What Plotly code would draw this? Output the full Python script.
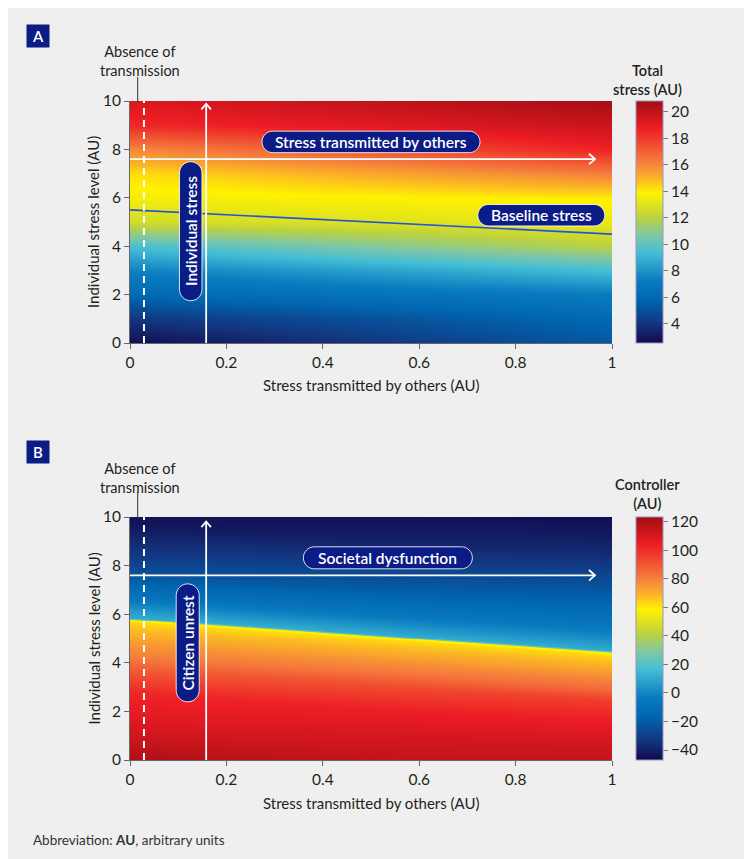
import numpy as np
import plotly.graph_objects as go

# ---------------- data ----------------
# Panel A: total stress (AU) read along x = 0 and x = 1, for y = 0..10
a_x = [0.0, 1.0]
a_y = [0, 1, 2, 3, 4, 5, 6, 7, 8, 9, 10]
a_total_x0 = [2.7, 4.0, 6.0, 7.5, 9.5, 12.6, 13.6, 14.2, 16.0, 18.5, 19.3]
a_total_x1 = [5.3, 6.0, 7.2, 9.4, 12.0, 13.3, 14.0, 16.2, 18.7, 19.8, 20.7]
a_baseline_x = [0, 1]
a_baseline_y = [5.5, 4.5]

# Panel B: controller (AU); boundary (baseline) at x = 0 and x = 1
b_boundary_x = [0, 1]
b_boundary_y = [5.77, 4.42]
# values versus height above the boundary, read at x = 0 and x = 1
b_above_d = [0.0, 0.03, 0.08, 0.3, 1.0, 2.0, 3.0, 4.0, 5.0, 5.6]
b_above_x0 = [57, 25, 11, 7, -9, -25, -35, -44, -47, -47]
b_above_x1 = [57, 25, 11, 7, -5, -16, -26, -36, -43, -46]
# values versus depth below the boundary, read at x = 0 and x = 1
b_below_d = [0.0, 0.1, 0.3, 0.7, 1.0, 1.5, 2.0, 3.0, 4.0, 5.0, 5.8]
b_below_x0 = [57, 62, 66, 71, 75, 80, 88, 102, 107, 114, 121]
b_below_x1 = [57, 62, 66, 72, 77, 85, 97, 106, 113, 116, 116]

x_ticks = [0, 0.2, 0.4, 0.6, 0.8, 1]
x_ticktext = ["0", "0.2", "0.4", "0.6", "0.8", "1"]
y_ticks = [0, 2, 4, 6, 8, 10]
a_cbar_ticks = [4, 6, 8, 10, 12, 14, 16, 18, 20]
b_cbar_ticks = [-40, -20, 0, 20, 40, 60, 80, 100, 120]
a_range = [2.54, 20.83]
b_range = [-47, 123.3]

# ---------------- styles ----------------
FONT = "Lato"
BG = "#efefef"
NAVY = "#0b1c86"
TXT = "#231f20"

cscale = [
    [0.00, "#120a4e"], [0.08, "#13357f"], [0.18, "#0066b0"], [0.26, "#0a7cc0"],
    [0.37, "#42bdd6"], [0.44, "#7cc7a8"], [0.52, "#bdd23e"], [0.62, "#fff200"],
    [0.68, "#fbb426"], [0.75, "#f47c3c"], [0.89, "#ed1c24"], [1.00, "#a20d14"],
]

# panel B grid
bx = np.linspace(0, 1, 121)
by = np.linspace(0, 10, 501)
bz = np.zeros((len(by), len(bx)))
for j, xv in enumerate(bx):
    yb = np.interp(xv, b_boundary_x, b_boundary_y)
    for i, yv in enumerate(by):
        if yv >= yb:
            d = yv - yb
            v0 = np.interp(d, b_above_d, b_above_x0)
            v1 = np.interp(d, b_above_d, b_above_x1)
        else:
            d = yb - yv
            v0 = np.interp(d, b_below_d, b_below_x0)
            v1 = np.interp(d, b_below_d, b_below_x1)
        bz[i, j] = (1 - xv) * v0 + xv * v1

W, H = 752, 859
xdom = [122 / W, 604 / W]
ydomA = [(H - 335) / H, (H - 93) / H]
ydomB = [(H - 752) / H, (H - 509) / H]

fig = go.Figure()

a_z = [[a_total_x0[i], a_total_x1[i]] for i in range(len(a_y))]
fig.add_trace(go.Heatmap(
    x=a_x, y=a_y, z=a_z, zsmooth="best", colorscale=cscale,
    zmin=a_range[0], zmax=a_range[1], xaxis="x", yaxis="y", hoverinfo="skip",
    colorbar=dict(x=628 / W, xanchor="left", y=sum(ydomA) / 2, yanchor="middle",
                  len=242, lenmode="pixels", thickness=27, xpad=0, ypad=0,
                  outlinewidth=1, outlinecolor="#9c97b5", tickvals=a_cbar_ticks,
                  ticks="outside", ticklen=5, tickcolor="#777",
                  tickfont=dict(family=FONT, size=15.5, color=TXT)),
))
fig.add_trace(go.Scatter(x=a_baseline_x, y=a_baseline_y, mode="lines",
                         line=dict(color="#2354dc", width=1.6), xaxis="x", yaxis="y",
                         hoverinfo="skip", showlegend=False))

fig.add_trace(go.Heatmap(
    x=bx, y=by, z=bz, zsmooth="best", colorscale=cscale,
    zmin=b_range[0], zmax=b_range[1], xaxis="x2", yaxis="y2", hoverinfo="skip",
    colorbar=dict(x=628 / W, xanchor="left", y=sum(ydomB) / 2, yanchor="middle",
                  len=243, lenmode="pixels", thickness=27, xpad=0, ypad=0,
                  outlinewidth=1, outlinecolor="#9c97b5", tickvals=b_cbar_ticks,
                  ticks="outside", ticklen=5, tickcolor="#777",
                  tickfont=dict(family=FONT, size=15.5, color=TXT)),
))

axis_common = dict(showline=True, linecolor="#666", linewidth=1, ticks="outside",
                   ticklen=5, tickcolor="#666", showgrid=False, zeroline=False,
                   automargin=False,
                   tickfont=dict(family=FONT, size=15.5, color=TXT))
fig.update_layout(
    width=W, height=H, autosize=False,
    margin=dict(l=0, r=0, t=0, b=0, pad=0, autoexpand=False),
    paper_bgcolor=BG, plot_bgcolor=BG, showlegend=False,
    font=dict(family=FONT, color=TXT),
    xaxis=dict(domain=xdom, anchor="y", range=[0, 1], tickvals=x_ticks,
               ticktext=x_ticktext, **axis_common),
    yaxis=dict(domain=ydomA, anchor="x", range=[0, 10], tickvals=y_ticks, **axis_common),
    xaxis2=dict(domain=xdom, anchor="y2", range=[0, 1], tickvals=x_ticks,
                ticktext=x_ticktext, **axis_common),
    yaxis2=dict(domain=ydomB, anchor="x2", range=[0, 10], tickvals=y_ticks, **axis_common),
)

shapes = []
annots = []


def pill(xr, yr, xc, yc, w, h, text, vertical=False):
    hw, hh = w / 2, h / 2
    r = min(w, h) / 2
    k = 0.5523 * r
    p = (f"M {-hw + r},{-hh} L {hw - r},{-hh} "
         f"C {hw - r + k},{-hh} {hw},{-hh + r - k} {hw},{-hh + r} "
         f"L {hw},{hh - r} "
         f"C {hw},{hh - r + k} {hw - r + k},{hh} {hw - r},{hh} "
         f"L {-hw + r},{hh} "
         f"C {-hw + r - k},{hh} {-hw},{hh - r + k} {-hw},{hh - r} "
         f"L {-hw},{-hh + r} "
         f"C {-hw},{-hh + r - k} {-hw + r - k},{-hh} {-hw + r},{-hh} Z")
    shapes.append(dict(type="path", xref=xr, yref=yr, xsizemode="pixel", ysizemode="pixel",
                       xanchor=xc, yanchor=yc, path=p, fillcolor=NAVY,
                       line=dict(color="rgba(255,255,255,0.85)", width=1), layer="above"))
    annots.append(dict(xref=xr, yref=yr, x=xc, y=yc, text=text, showarrow=False,
                       xanchor="center", yanchor="middle",
                       textangle=-90 if vertical else 0,
                       font=dict(family=FONT, size=15.5, color="white", weight=600)))


def arrows(xr, yr, vx, vtip, hy, htip):
    shapes.append(dict(type="line", xref=xr, yref=yr, x0=vx, x1=vx, y0=0, y1=vtip,
                       line=dict(color="white", width=1.8), layer="above"))
    shapes.append(dict(type="path", xref=xr, yref=yr, xsizemode="pixel", ysizemode="pixel",
                       xanchor=vx, yanchor=vtip, path="M -4.8,-5.5 L 0,0 L 4.8,-5.5",
                       line=dict(color="white", width=1.8), layer="above"))
    shapes.append(dict(type="line", xref=xr, yref=yr, x0=0, x1=htip, y0=hy, y1=hy,
                       line=dict(color="white", width=1.8), layer="above"))
    shapes.append(dict(type="path", xref=xr, yref=yr, xsizemode="pixel", ysizemode="pixel",
                       xanchor=htip, yanchor=hy, path="M -6,5.3 L 0,0 L -6,-5.3",
                       line=dict(color="white", width=1.8), layer="above"))
    shapes.append(dict(type="line", xref=xr, yref=yr, x0=0.029, x1=0.029, y0=0, y1=10,
                       line=dict(color="white", width=2, dash="7px,5px"), layer="above"))


def py(fy):  # figure pixel y -> paper
    return (H - fy) / H


def px(fx):
    return fx / W


def note(x, y, text, size, angle=0, weight="normal", color=TXT, xanchor="center", **kw):
    annots.append(dict(xref="paper", yref="paper", x=x, y=y, text=text, showarrow=False,
                       xanchor=xanchor, yanchor="middle", textangle=angle,
                       font=dict(family=FONT, size=size, color=color, weight=weight), **kw))


panels = [
    ("x", "y", ydomA, "A", 28, 53.5, 69, 94, 377, 9.88, 72.5, "Total<br>stress (AU)"),
    ("x2", "y2", ydomB, "B", 444, 470, 484, 510, 795, 9.81, 486, "Controller<br>(AU)"),
]
for (xr, yr, ydom, letter, letter_y, absence_y, ptr0, ptr1, xt_y, vtip, cb_y, cb_title) in panels:
    arrows(xr, yr, 0.158, vtip, 7.6, 0.9647)
    note(px(30), py(letter_y), letter, 15, weight=600, color="white",
         width=22, height=22, bgcolor=NAVY, borderpad=0)
    note(px(132), py(absence_y), "Absence of<br>transmission", 14.5, borderpad=0)
    shapes.append(dict(type="line", xref="paper", yref="paper", x0=px(129.7), x1=px(129.7),
                       y0=py(ptr0), y1=py(ptr1), line=dict(color="#333", width=1)))
    note(px(363), py(xt_y), "Stress transmitted by others (AU)", 15)
    note(px(85), sum(ydom) / 2, "Individual stress level (AU)", 15, angle=-90)
    note(px(639), py(cb_y), cb_title, 14.5, weight=600, borderpad=0)

pill("x", "y", 0.5, 8.31, 218, 21.5, "Stress transmitted by others")
pill("x", "y", 0.8533, 5.28, 127, 21.5, "Baseline stress")
pill("x", "y", 0.126, 4.62, 22.5, 139, "Individual stress", vertical=True)
pill("x2", "y2", 0.535, 8.32, 169, 22, "Societal dysfunction")
pill("x2", "y2", 0.1197, 4.82, 23, 118, "Citizen unrest", vertical=True)

note(px(23), py(832), "Abbreviation: <b>AU</b>, arbitrary units", 13.5, color="#333",
     xanchor="left")

fig.update_layout(shapes=shapes, annotations=annots)
fig.write_html("out.html")
